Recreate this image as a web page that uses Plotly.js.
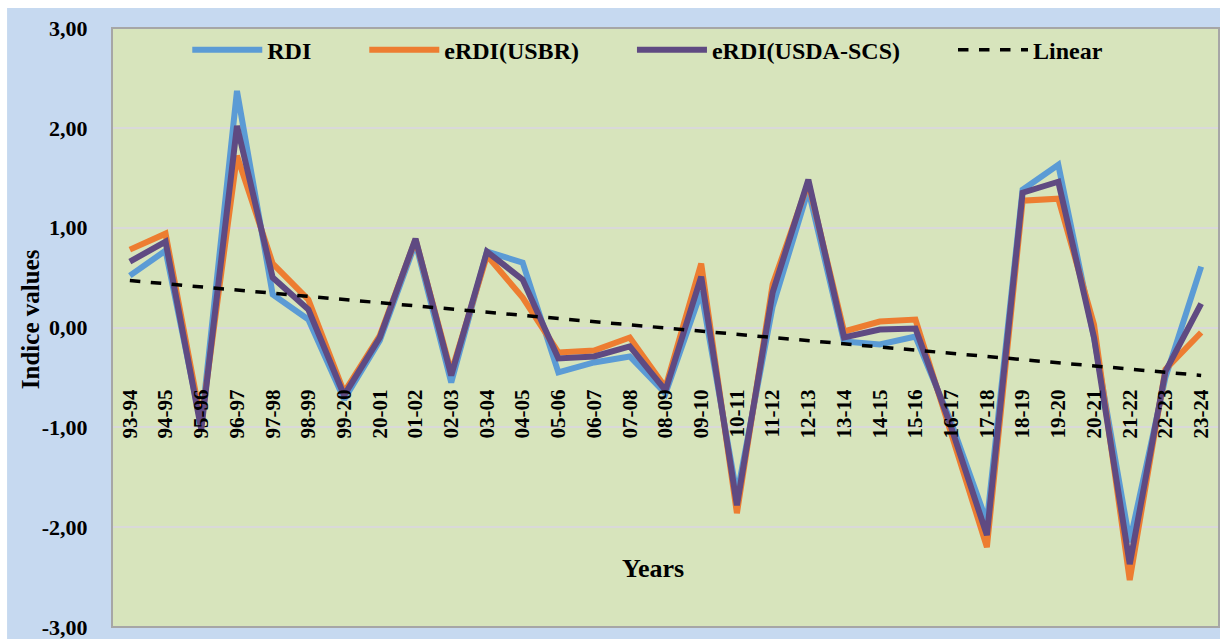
<!DOCTYPE html>
<html>
<head>
<meta charset="utf-8">
<script src="https://cdn.plot.ly/plotly-3.0.1.min.js"></script>
<style>
  html, body { margin: 0; padding: 0; background: #ffffff; }
  #chart { width: 1220px; height: 639px; }
</style>
</head>
<body>
<div id="chart"></div>
<script>
const years = ['93-94','94-95','95-96','96-97','97-98','98-99','99-20','20-01','01-02','02-03',
  '03-04','04-05','05-06','06-07','07-08','08-09','09-10','10-11','11-12','12-13',
  '13-14','14-15','15-16','16-17','17-18','18-19','19-20','20-21','21-22','22-23','23-24'];

const rdi = [0.52, 0.77, -0.98, 2.37, 0.33, 0.08, -0.72, -0.13, 0.85, -0.55,
  0.76, 0.65, -0.45, -0.35, -0.29, -0.66, 0.36, -1.68, 0.21, 1.38,
  -0.14, -0.17, -0.09, -0.95, -1.95, 1.38, 1.63, -0.10, -2.15, -0.50, 0.61];

const erdiUsbr = [0.78, 0.94, -0.95, 1.72, 0.64, 0.28, -0.65, -0.08, 0.88, -0.45,
  0.72, 0.30, -0.25, -0.23, -0.10, -0.60, 0.64, -1.86, 0.43, 1.45,
  -0.04, 0.06, 0.08, -1.05, -2.20, 1.27, 1.29, 0.03, -2.53, -0.42, -0.05];

const erdiUsda = [0.66, 0.86, -1.02, 2.02, 0.50, 0.18, -0.68, -0.10, 0.89, -0.48,
  0.76, 0.48, -0.31, -0.29, -0.19, -0.63, 0.51, -1.78, 0.35, 1.48,
  -0.10, -0.02, -0.01, -1.00, -2.08, 1.35, 1.46, -0.10, -2.37, -0.44, 0.24];

// Linear trend line, read at its two ends
const linearX = ['93-94', '23-24'];
const linearY = [0.47, -0.48];

const yTickValues = [-3, -2, -1, 0, 1, 2, 3];
const yTickLabels = ['-3,00', '-2,00', '-1,00', '0,00', '1,00', '2,00', '3,00'];

const serif = 'Liberation Serif, Times New Roman, serif';
const PAD = '\u00a0'.repeat(8);

const traces = [
  { x: years, y: rdi, name: 'RDI' + PAD, type: 'scatter', mode: 'lines',
    line: { color: '#5b9bd5', width: 6 } },
  { x: years, y: erdiUsbr, name: 'eRDI(USBR)' + PAD, type: 'scatter', mode: 'lines',
    line: { color: '#ed7d31', width: 6 } },
  { x: years, y: erdiUsda, name: 'eRDI(USDA-SCS)' + PAD, type: 'scatter', mode: 'lines',
    line: { color: '#5f4a82', width: 6 } },
  { x: linearX, y: linearY, name: 'Linear', type: 'scatter', mode: 'lines',
    line: { color: '#000000', width: 3.5, dash: 'dash' } }
];

const layout = {
  width: 1220, height: 639,
  margin: { l: 112, r: 1, t: 28, b: 12, pad: 0 },
  paper_bgcolor: '#c6d9f0',
  plot_bgcolor: '#d7e4bc',
  showlegend: true,
  legend: {
    orientation: 'h', x: 0.068, y: 0.963, xanchor: 'left', yanchor: 'middle',
    bgcolor: 'rgba(0,0,0,0)', itemwidth: 70,
    font: { family: serif, size: 24, color: '#000', weight: 'bold' }
  },
  xaxis: {
    type: 'category', categoryorder: 'array', categoryarray: years,
    range: [-0.5, 30.5], anchor: 'free', position: 0.405,
    showgrid: false, zeroline: false, showline: false, ticks: '',
    tickangle: -90, fixedrange: true,
    tickfont: { family: serif, size: 21, color: '#000', weight: 'bold' }
  },
  yaxis: {
    range: [-3, 3], tickvals: yTickValues, ticktext: yTickLabels,
    showgrid: true, gridcolor: '#d9d9d9', gridwidth: 2,
    zeroline: false, showline: false, ticks: 'outside', ticklen: 19,
    tickcolor: 'rgba(0,0,0,0)', fixedrange: true, ticklabeloverflow: 'allow',
    tickfont: { family: serif, size: 22, color: '#000', weight: 'bold' }
  },
  shapes: [
    { type: 'rect', xref: 'paper', yref: 'paper', x0: 0, x1: 1, y0: 0, y1: 1,
      line: { color: '#a6a6a6', width: 2 }, fillcolor: 'rgba(0,0,0,0)', layer: 'above' },
    { type: 'rect', xref: 'paper', yref: 'paper', x0: -0.2, x1: 1.01, y0: 1.0334, y1: 1.1,
      line: { width: 0 }, fillcolor: '#ffffff', layer: 'below' },
    { type: 'rect', xref: 'paper', yref: 'paper', x0: -0.2, x1: -0.0948, y0: -0.1, y1: 1.1,
      line: { width: 0 }, fillcolor: '#ffffff', layer: 'below' }
  ],
  annotations: [
    { text: 'Years', xref: 'paper', yref: 'paper', x: 0.489, y: 0.097,
      showarrow: false, xanchor: 'center', yanchor: 'middle',
      font: { family: serif, size: 26, color: '#000', weight: 'bold' } },
    { text: 'Indice values', xref: 'paper', yref: 'paper', x: -0.074, y: 0.514,
      showarrow: false, textangle: -90, xanchor: 'center', yanchor: 'middle',
      font: { family: serif, size: 25, color: '#000', weight: 'bold' } }
  ]
};

Plotly.newPlot('chart', traces, layout, { displayModeBar: false, staticPlot: true });
</script>
</body>
</html>
